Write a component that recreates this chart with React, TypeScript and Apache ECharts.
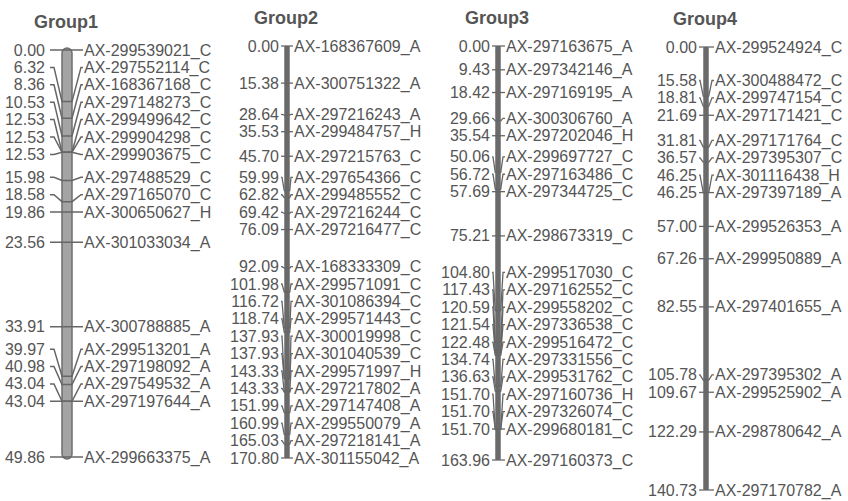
import React, { useEffect, useRef } from "react";
import * as echarts from "echarts";

// ---- data ----
const GROUP_TITLES = ["Group1", "Group2", "Group3", "Group4"];

const G1_POS = [0.0, 6.32, 8.36, 10.53, 12.53, 12.53, 12.53, 15.98, 18.58, 19.86, 23.56, 33.91, 39.97, 40.98, 43.04, 43.04, 49.86];
const G1_NAMES = ["AX-299539021_C", "AX-297552114_C", "AX-168367168_C", "AX-297148273_C", "AX-299499642_C", "AX-299904298_C", "AX-299903675_C", "AX-297488529_C", "AX-297165070_C", "AX-300650627_H", "AX-301033034_A", "AX-300788885_A", "AX-299513201_A", "AX-297198092_A", "AX-297549532_A", "AX-297197644_A", "AX-299663375_A"];

const G2_POS = [0.0, 15.38, 28.64, 35.53, 45.7, 59.99, 62.82, 69.42, 76.09, 92.09, 101.98, 116.72, 118.74, 137.93, 137.93, 143.33, 143.33, 151.99, 160.99, 165.03, 170.8];
const G2_NAMES = ["AX-168367609_A", "AX-300751322_A", "AX-297216243_A", "AX-299484757_H", "AX-297215763_C", "AX-297654366_C", "AX-299485552_C", "AX-297216244_C", "AX-297216477_C", "AX-168333309_C", "AX-299571091_C", "AX-301086394_C", "AX-299571443_C", "AX-300019998_C", "AX-301040539_C", "AX-299571997_H", "AX-297217802_A", "AX-297147408_A", "AX-299550079_A", "AX-297218141_A", "AX-301155042_A"];

const G3_POS = [0.0, 9.43, 18.42, 29.66, 35.54, 50.06, 56.72, 57.69, 75.21, 104.8, 117.43, 120.59, 121.54, 122.48, 134.74, 136.63, 151.7, 151.7, 151.7, 163.96];
const G3_NAMES = ["AX-297163675_A", "AX-297342146_A", "AX-297169195_A", "AX-300306760_A", "AX-297202046_H", "AX-299697727_C", "AX-297163486_C", "AX-297344725_C", "AX-298673319_C", "AX-299517030_C", "AX-297162552_C", "AX-299558202_C", "AX-297336538_C", "AX-299516472_C", "AX-297331556_C", "AX-299531762_C", "AX-297160736_H", "AX-297326074_C", "AX-299680181_C", "AX-297160373_C"];

const G4_POS = [0.0, 15.58, 18.81, 21.69, 31.81, 36.57, 46.25, 46.25, 57.0, 67.26, 82.55, 105.78, 109.67, 122.29, 140.73];
const G4_NAMES = ["AX-299524924_C", "AX-300488472_C", "AX-299747154_C", "AX-297171421_C", "AX-297171764_C", "AX-297395307_C", "AX-301116438_H", "AX-297397189_A", "AX-299526353_A", "AX-299950889_A", "AX-297401655_A", "AX-297395302_A", "AX-299525902_A", "AX-298780642_A", "AX-297170782_A"];

const GROUP_POS = [G1_POS, G2_POS, G3_POS, G4_POS];
const GROUP_NAMES = [G1_NAMES, G2_NAMES, G3_NAMES, G4_NAMES];

// ---- layout (pixels) ----
const CENTERS = [67, 287, 498, 706];
const TOPS = [50, 46, 46, 47];
const BOTTOMS = [457, 458, 460, 490];
const NUM_OFF = [-22, -8, -8, -9];
const NAME_OFF = [17, 7, 8, 9];
const BAR_W = [10, 5.5, 5.5, 5.5];
const GAP = 17.4;
const FONT = "'Liberation Sans', Arial, Helvetica, sans-serif";
const TEXT_COLOR = "#555555";
const LINE_COLOR = "#666666";

function spread(targets: number[], gap: number): number[] {
  const n = targets.length;
  const pos = targets.slice();
  for (let i = n - 2; i >= 0; i--) pos[i] = Math.min(targets[i], pos[i + 1] - gap);
  pos[0] = Math.max(pos[0], targets[0]);
  for (let i = 1; i < n; i++) pos[i] = Math.max(pos[i], pos[i - 1] + gap);
  return pos;
}

function makeRenderItem(g: number) {
  const positions = GROUP_POS[g];
  const names = GROUP_NAMES[g];
  return (params: any, api: any) => {
    const i = params.dataIndex;
    const targets = positions.map((v) => api.coord([0, v])[1]);
    const labels = spread(targets, GAP);
    const pt = api.coord([0, api.value(1)]);
    const bx = pt[0];
    const my = pt[1];
    const ly = labels[i];
    const hw = BAR_W[g] / 2;
    const children: any[] = [];
    if (i === 0) {
      const top = targets[0];
      const bottom = targets[targets.length - 1];
      if (g === 0) {
        children.push({
          type: "rect",
          shape: { x: bx - hw, y: top - 2, width: BAR_W[g], height: bottom - top + 4, r: hw },
          style: { fill: "#a4a4a4", stroke: "#6e6e6e", lineWidth: 1.5 },
        });
      } else {
        children.push({
          type: "rect",
          shape: { x: bx - hw, y: top, width: BAR_W[g], height: bottom - top, r: 1 },
          style: { fill: "#6a6a6a" },
        });
      }
      children.push({
        type: "text",
        x: bx - 1,
        y: top - 28,
        style: {
          text: GROUP_TITLES[g],
          align: "center",
          verticalAlign: "middle",
          fontSize: 18,
          fontWeight: "bold",
          fontFamily: FONT,
          fill: "#555555",
        },
      });
    }
    const numX = bx + NUM_OFF[g];
    const nameX = bx + NAME_OFF[g];
    let points: number[][];
    if (g === 0) {
      points = [
        [numX + 5, ly],
        [numX + 9, ly],
        [bx - hw, my],
        [bx + hw, my],
        [nameX - 3, ly],
        [nameX - 1, ly],
      ];
    } else {
      points = [
        [numX + 2, ly],
        [numX + 3, ly],
        [bx - hw, my],
        [bx + hw, my],
        [nameX - 3, ly],
        [nameX - 1, ly],
      ];
    }
    children.push({
      type: "polyline",
      shape: { points },
      style: { stroke: LINE_COLOR, lineWidth: g === 0 ? 1.5 : 1.3, fill: null },
    });
    children.push({
      type: "text",
      x: numX,
      y: ly,
      style: {
        text: positions[i].toFixed(2),
        align: "right",
        verticalAlign: "middle",
        fontSize: 16,
        fontFamily: FONT,
        fill: TEXT_COLOR,
      },
    });
    children.push({
      type: "text",
      x: nameX,
      y: ly,
      style: {
        text: names[i],
        align: "left",
        verticalAlign: "middle",
        fontSize: 16,
        fontFamily: FONT,
        fill: TEXT_COLOR,
      },
    });
    return { type: "group", children };
  };
}

export default function App() {
  const ref = useRef<HTMLDivElement>(null);
  useEffect(() => {
    if (!ref.current) return;
    const chart = echarts.init(ref.current, null, { renderer: "svg" });
    const grids: any[] = [];
    const xAxes: any[] = [];
    const yAxes: any[] = [];
    const series: any[] = [];
    for (let g = 0; g < 4; g++) {
      const pos = GROUP_POS[g];
      grids.push({
        left: CENTERS[g] - 50,
        width: 100,
        top: TOPS[g],
        height: BOTTOMS[g] - TOPS[g],
      });
      xAxes.push({ type: "value", gridIndex: g, min: -50, max: 50, show: false });
      yAxes.push({
        type: "value",
        gridIndex: g,
        min: 0,
        max: pos[pos.length - 1],
        inverse: true,
        show: false,
      });
      series.push({
        type: "custom",
        xAxisIndex: g,
        yAxisIndex: g,
        clip: false,
        silent: true,
        renderItem: makeRenderItem(g),
        data: pos.map((v) => [0, v]),
      });
    }
    chart.setOption({
      animation: false,
      backgroundColor: "#ffffff",
      grid: grids,
      xAxis: xAxes,
      yAxis: yAxes,
      series,
    });
    return () => chart.dispose();
  }, []);
  return (
    <div
      ref={ref}
      style={{ position: "fixed", left: 0, top: 0, width: 848, height: 501 }}
    />
  );
}
